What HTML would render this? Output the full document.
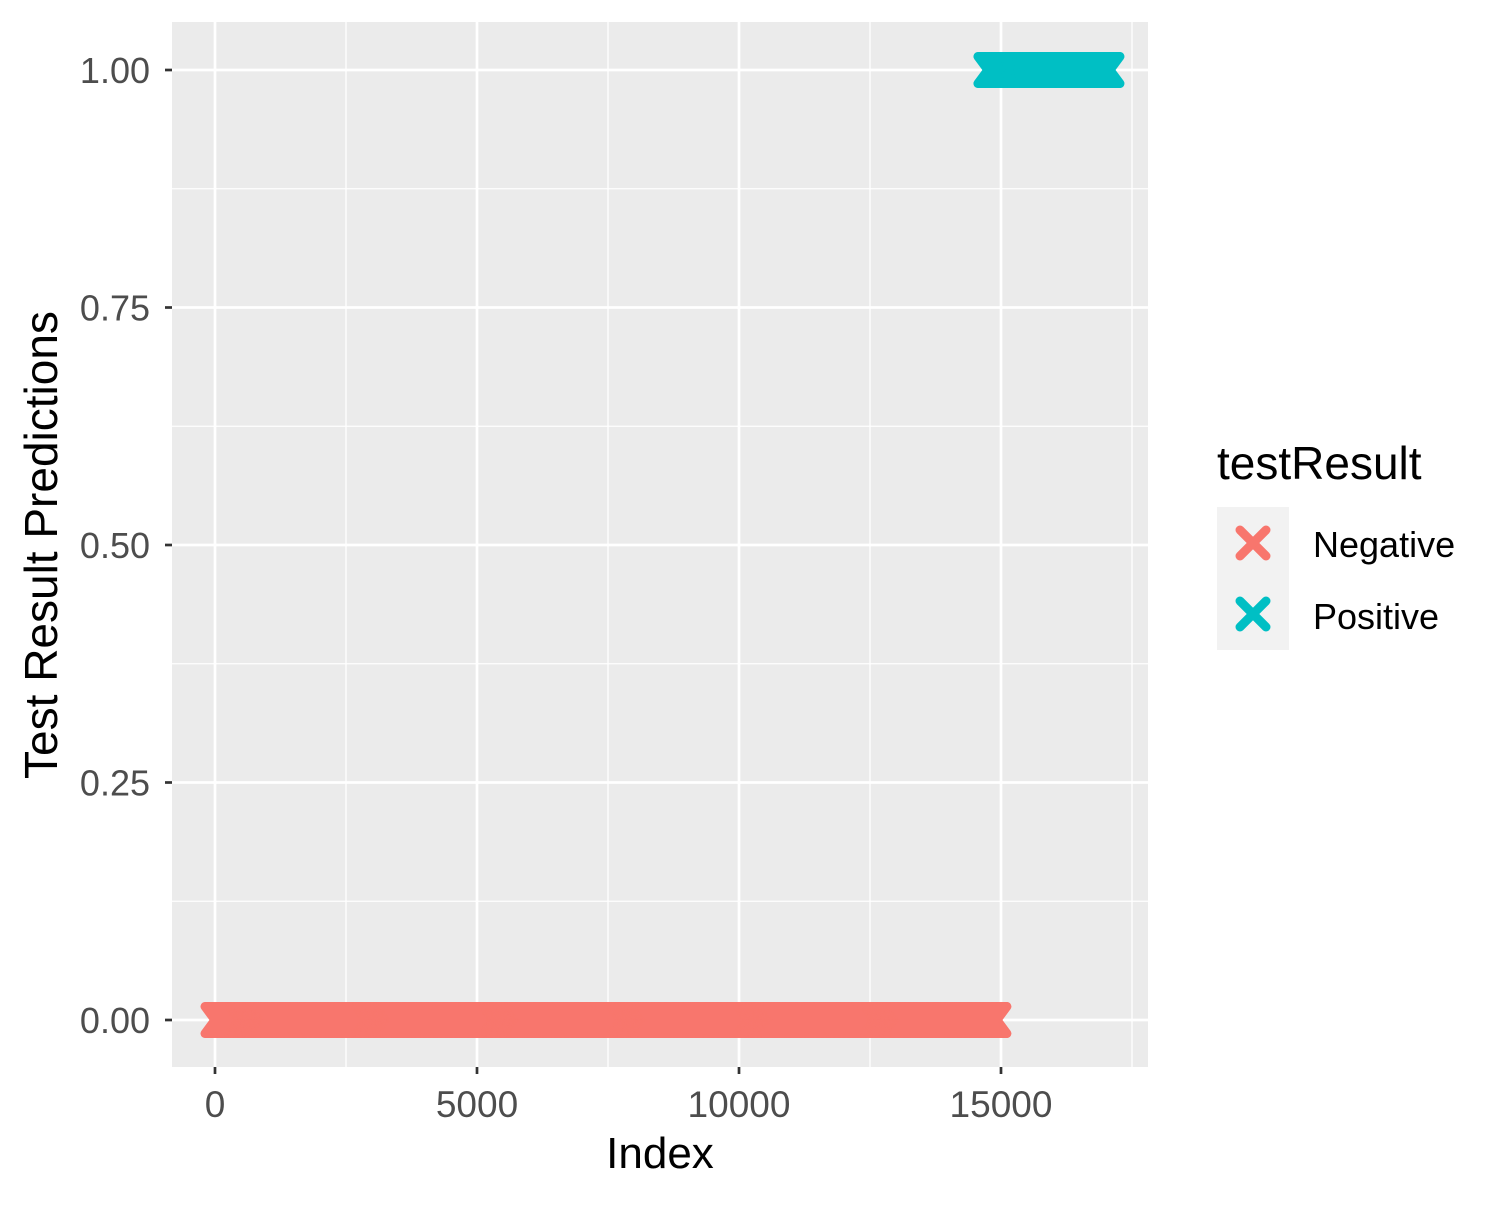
<!DOCTYPE html>
<html><head><meta charset="utf-8"><style>
body{margin:0;background:#fff;}
svg text{font-family:"Liberation Sans",Arial,sans-serif;}
</style></head><body>
<svg width="1500" height="1200" viewBox="0 0 1500 1200">
<rect x="172" y="22" width="976" height="1045" fill="#ebebeb"/>
<g id="grid"></g>
<g id="marks"></g>
<g id="axes"></g>
<text x="660" y="1168" font-size="44" text-anchor="middle" fill="#000">Index</text>
<text transform="translate(57,545) rotate(-90)" font-size="46" text-anchor="middle" fill="#000">Test Result Predictions</text>
<g>
<text x="1217" y="479" font-size="46" fill="#000">testResult</text>
<rect x="1217" y="507" width="72" height="143" fill="#f2f2f2"/>
<g stroke="#f8766d" stroke-width="9" stroke-linecap="round">
<line x1="1240" y1="530" x2="1266" y2="556"/><line x1="1240" y1="556" x2="1266" y2="530"/></g>
<g stroke="#00bfc4" stroke-width="9" stroke-linecap="round">
<line x1="1240" y1="601" x2="1266" y2="627"/><line x1="1240" y1="627" x2="1266" y2="601"/></g>
<text x="1313" y="557" font-size="36" fill="#000">Negative</text>
<text x="1313" y="629" font-size="36" fill="#000">Positive</text>
</g>
</svg>
<script>
const xTicks=[0,5000,10000,15000];
const xMinor=[2500,7500,12500,17500];
const yTicks=[0,0.25,0.5,0.75,1];
const yTickLabels=["0.00","0.25","0.50","0.75","1.00"];
const yMinor=[0.125,0.375,0.625,0.875];
const seriesNames=["Negative","Positive"];
const seriesStart=[0,14750];
const seriesEnd=[14920,17080];
const seriesValue=[0,1];
const seriesColor=["#f8766d","#00bfc4"];
const X=v=>215+(v/5000)*262;
const Y=v=>1020-v*950;
const NS="http://www.w3.org/2000/svg";
function mk(t,a,p){const e=document.createElementNS(NS,t);for(const k in a)e.setAttribute(k,a[k]);p.appendChild(e);return e;}
const grid=document.getElementById('grid'),axes=document.getElementById('axes'),marks=document.getElementById('marks');
xMinor.forEach(v=>{const l=mk('line',{x1:X(v),x2:X(v),y1:22,y2:1067,stroke:'#fff','stroke-width':1.3},grid);

});
yMinor.forEach(v=>{const l=mk('line',{x1:172,x2:1148,y1:Y(v),y2:Y(v),stroke:'#fff','stroke-width':1.3},grid);

});
xTicks.forEach(v=>{const l=mk('line',{x1:X(v),x2:X(v),y1:22,y2:1067,stroke:'#fff','stroke-width':2.7},grid);


const t=mk('line',{x1:X(v),x2:X(v),y1:1067,y2:1074,stroke:'#333','stroke-width':2.7},axes);


const tx=mk('text',{x:X(v),y:1117,'font-size':37,'text-anchor':'middle',fill:'#4d4d4d'},axes);tx.textContent=v;

});
yTicks.forEach((v,i)=>{const l=mk('line',{x1:172,x2:1148,y1:Y(v),y2:Y(v),stroke:'#fff','stroke-width':2.7},grid);


const t=mk('line',{x1:165,x2:172,y1:Y(v),y2:Y(v),stroke:'#333','stroke-width':2.7},axes);


const tx=mk('text',{x:150,y:Y(v)+13,'font-size':36,'text-anchor':'end',fill:'#4d4d4d'},axes);tx.textContent=yTickLabels[i];

});
seriesNames.forEach((n,s)=>{
const g=mk('g',{stroke:seriesColor[s],'stroke-width':9,'stroke-linecap':'round'},marks);


const cy=Y(seriesValue[s]);
const step=20;
const draw=cx=>{mk('line',{x1:cx-10,y1:cy-13.5,x2:cx+10,y2:cy+13.5},g);mk('line',{x1:cx-10,y1:cy+13.5,x2:cx+10,y2:cy-13.5},g);};
for(let i=seriesStart[s];i<=seriesEnd[s];i+=step)draw(X(i));
draw(X(seriesEnd[s]));
});
</script>
</body></html>
